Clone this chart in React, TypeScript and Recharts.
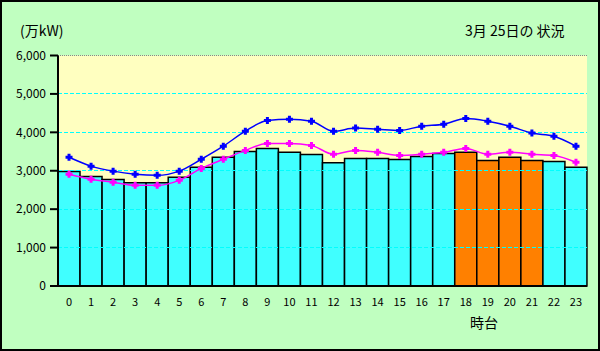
import { ComposedChart, Bar, Line, XAxis, YAxis, CartesianGrid, ReferenceLine, Cell } from 'recharts';

// hours 0..23
const hours = ['0', '1', '2', '3', '4', '5', '6', '7', '8', '9', '10', '11', '12', '13', '14', '15', '16', '17', '18', '19', '20', '21', '22', '23'];
// actual demand (bars)
const actual = [2980, 2850, 2770, 2690, 2690, 2830, 3090, 3350, 3500, 3580, 3480, 3420, 3210, 3320, 3320, 3290, 3370, 3450, 3480, 3270, 3350, 3270, 3240, 3090];
// supply capacity (blue line)
const supply = [3350, 3120, 2990, 2910, 2880, 2990, 3300, 3640, 4030, 4310, 4340, 4290, 4030, 4110, 4080, 4050, 4160, 4210, 4360, 4290, 4160, 3980, 3900, 3640];
// forecast (magenta line)
const forecast = [2910, 2780, 2700, 2620, 2620, 2750, 3060, 3300, 3530, 3710, 3710, 3660, 3430, 3530, 3480, 3400, 3430, 3480, 3580, 3430, 3480, 3430, 3400, 3220];
// hours drawn in orange (peak)
const peakHours = ['18', '19', '20', '21'];

const yTicks = [0, 1000, 2000, 3000, 4000, 5000, 6000];
const gridLevels = [1000, 2000, 3000, 4000, 5000];

const data = hours.map((h, i) => ({ hour: h, actual: actual[i], supply: supply[i], forecast: forecast[i] }));

const FONT = '"Noto Sans CJK JP", "DejaVu Sans", sans-serif';

const makeDot = (color: string) => (props: any) => {
  const { cx, cy, index } = props;
  if (cx == null || cy == null) return <g key={index} />;
  return (
    <path
      key={index}
      d={`M${cx - 1.5},${cy - 3.5}h3v2h2v3h-2v2h-3v-2h-2v-3h2z`}
      fill={color}
    />
  );
};

// snap the dashed grid line onto a pixel row so it stays sharp
const crispLine = (p: any) => {
  const y = Math.floor(p.y1) + 0.5;
  return <line x1={p.x1} x2={p.x2} y1={y} y2={y} stroke="#00ffff" strokeWidth={1} strokeDasharray="4 2" />;
};

export default function App() {
  return (
    <div style={{ position: 'relative', width: 600, height: 351, boxSizing: 'border-box', border: '2px solid #000', background: '#c0ffc0', fontFamily: FONT }}>
      <style>{'body{margin:0}'}</style>
      <div style={{ position: 'absolute', left: 18, top: 18, fontSize: 14, color: '#000' }}>(万kW)</div>
      <div style={{ position: 'absolute', left: 463, top: 18, fontSize: 14, color: '#000' }}>3月 25日の 状況</div>
      <div style={{ position: 'absolute', left: 468, top: 310, fontSize: 14, color: '#000' }}>時台</div>
      <ComposedChart width={596} height={347} data={data} margin={{ top: 53.5, right: 11, bottom: 33, left: 0 }} barCategoryGap={0}>
        <CartesianGrid vertical={false} horizontal={false} fill="#ffffc0" />
        {gridLevels.map((v) => (
          <ReferenceLine key={v} y={v} stroke="#00ffff" shape={crispLine} />
        ))}
        <ReferenceLine y={6000} stroke="#888" strokeDasharray="1 1" />
        <XAxis
          dataKey="hour"
          height={30}
          axisLine={{ stroke: '#000', strokeWidth: 2 }}
          tickLine={false}
          tickSize={0}
          tickMargin={12}
          interval={0}
          tick={{ fill: '#000', fontSize: 11, fontFamily: FONT }}
        />
        <YAxis
          width={56}
          domain={[0, 6000]}
          ticks={yTicks}
          interval={0}
          axisLine={{ stroke: '#000', strokeWidth: 2 }}
          tickLine={{ stroke: '#000', strokeWidth: 2 }}
          tickSize={8}
          tickMargin={4}
          tickFormatter={(v: number) => v.toLocaleString('en-US')}
          tick={{ fill: '#000', fontSize: 12, fontFamily: FONT }}
        />
        <YAxis yAxisId="right" orientation="right" width={0} domain={[0, 6000]} axisLine={{ stroke: '#888', strokeDasharray: '1 1' }} tick={false} tickLine={false} />
        <Bar dataKey="actual" stroke="#000" strokeWidth={1.5} isAnimationActive={false}>
          {data.map((d) => (
            <Cell key={d.hour} fill={peakHours.includes(d.hour) ? '#ff8000' : '#40ffff'} />
          ))}
        </Bar>
        <Line type="monotone" dataKey="supply" stroke="#0000ff" strokeWidth={1.5} dot={makeDot('#0000ff')} isAnimationActive={false} />
        <Line type="monotone" dataKey="forecast" stroke="#ff00ff" strokeWidth={1.5} dot={makeDot('#ff00ff')} isAnimationActive={false} />
      </ComposedChart>
    </div>
  );
}
